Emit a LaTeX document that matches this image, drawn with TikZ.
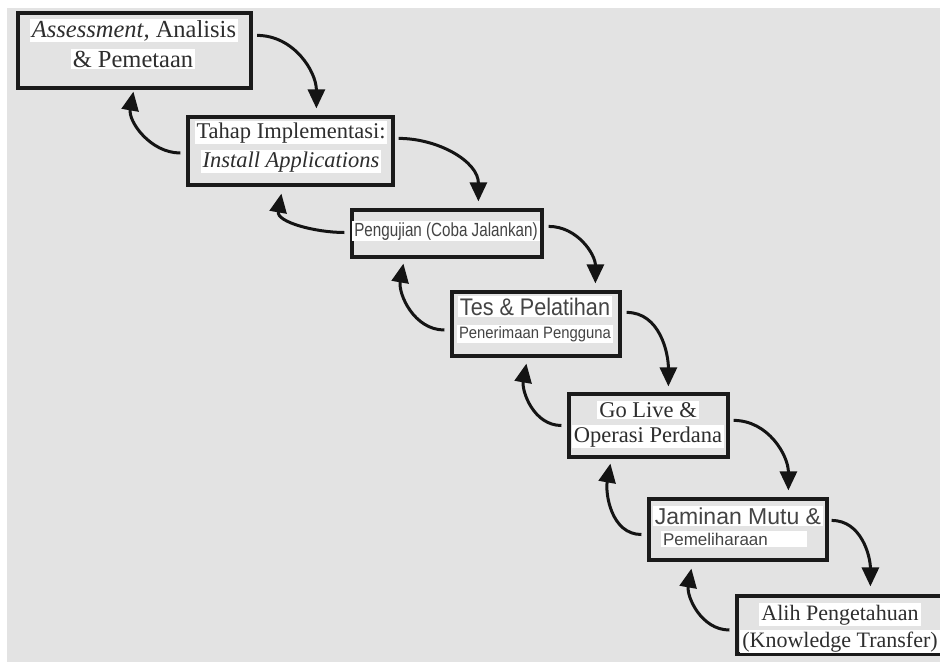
\documentclass[tikz,border=0pt]{standalone}
\usepackage{fontspec}
\setmainfont{Liberation Serif}
\newfontfamily\sansfont{Liberation Sans}
\newfontfamily\sansnarrow[FakeStretch=0.9]{Liberation Sans}
\newfontfamily\sanscond[FakeStretch=0.8]{Liberation Sans}
\usetikzlibrary{arrows.meta}
\definecolor{bggray}{HTML}{E3E3E3}
\definecolor{framegray}{HTML}{1A1A1A}
\definecolor{inkgray}{HTML}{2E2E2E}
\definecolor{sansgray}{HTML}{444444}
\tikzset{
  phase/.style={draw=framegray, line width=3.2pt, inner sep=0pt},
  hl/.style={fill=white, text=inkgray, inner xsep=2pt, inner ysep=1.5pt, anchor=base},
  flow/.style={line width=3pt, draw=black!92, -{Triangle[width=17pt,length=19pt]}},
}
\begin{document}
\begin{tikzpicture}[x=1pt, y=-1pt]
    \useasboundingbox (0,0) rectangle (940,662);
    \fill[bggray] (7,8) rectangle (940,662);

    % the seven phases
    \node[phase, minimum width=233pt, minimum height=75pt] (assess) at (134.5,50.5) {};
    \node[phase, minimum width=205pt, minimum height=68pt] (install) at (290.5,151) {};
    \node[phase, minimum width=190pt, minimum height=47pt] (uji) at (447,233.5) {};
    \node[phase, minimum width=168pt, minimum height=64pt] (latih) at (536,324) {};
    \node[phase, minimum width=159pt, minimum height=63pt] (golive) at (648.5,425.5) {};
    \node[phase, minimum width=178pt, minimum height=61pt] (mutu) at (738,529.5) {};
    \node[phase, minimum width=207pt, minimum height=58pt] (alih) at (840.5,625) {};

    % labels, one white strip per line
    \node[hl, font=\fontsize{24.5}{28}\selectfont] (assessA) at (134,37) {\textit{Assessment,} Analisis};
    \node[hl, font=\fontsize{24.5}{28}\selectfont] (assessB) at (133,67) {\& Pemetaan};
    \node[hl, font=\fontsize{22.5}{26}\selectfont] (installA) at (291,138) {Tahap Implementasi:};
    \node[hl, font=\fontsize{22.5}{26}\selectfont] (installB) at (291,167) {\textit{Install Applications}};
    \node[hl, text=sansgray, font=\sanscond\fontsize{19}{22}\selectfont] (ujiA) at (446,236) {Pengujian (Coba Jalankan)};
    \node[hl, text=sansgray, font=\sansnarrow\fontsize{24}{28}\selectfont] (latihA) at (535,315) {Tes \& Pelatihan};
    \node[hl, text=sansgray, font=\sansnarrow\fontsize{16.5}{20}\selectfont] (latihB) at (535,338) {Penerimaan Pengguna};
    \node[hl, font=\fontsize{22.5}{26}\selectfont] (goliveA) at (648,417) {Go Live \&};
    \node[hl, font=\fontsize{22.5}{26}\selectfont] (goliveB) at (648,442) {Operasi Perdana};
    \node[hl, text=sansgray, font=\sansfont\fontsize{23}{27}\selectfont] (mutuA) at (738,524) {Jaminan Mutu \&};
    \node[hl, text=sansgray, font=\sansfont\fontsize{17}{20}\selectfont] (mutuB) at (734,545) {\makebox[142pt][l]{Pemeliharaan}};
    \node[hl, font=\fontsize{22}{26}\selectfont] (alihA) at (840,620) {Alih Pengetahuan};
    \node[hl, font=\fontsize{22}{26}\selectfont] (alihB) at (840,647) {(Knowledge Transfer)};

    % forward: next phase
    \foreach \from/\to/\sx/\sy/\ex/\ey in {assess/install/4.5/24/130/-7, install/uji/4/23/128/-7,
        uji/latih/5/18/145/-7, latih/golive/5/22/101/-6, golive/mutu/4/28/141/-7, mutu/alih/3/23/135/-8}
    {
        \draw[flow] ([shift={(\sx,\sy)}]\from.north east) to[out=0, in=90] ([shift={(\ex,\ey)}]\to.north west);
    }

    % backward: return to the previous phase
    \foreach \from/\to/\sx/\sy/\ex/\ey in {install/assess/-6/2/117/2, uji/install/-6/-1/95/7,
        latih/uji/-6/6/53/5, golive/latih/-6/0/76/6, mutu/golive/-6/5/43/5, alih/mutu/-6/5/44/7}
    {
        \draw[flow] ([shift={(\sx,\sy)}]\from.west) to[out=180, in=-100] ([shift={(\ex,\ey)}]\to.south west);
    }
\end{tikzpicture}
\end{document}
